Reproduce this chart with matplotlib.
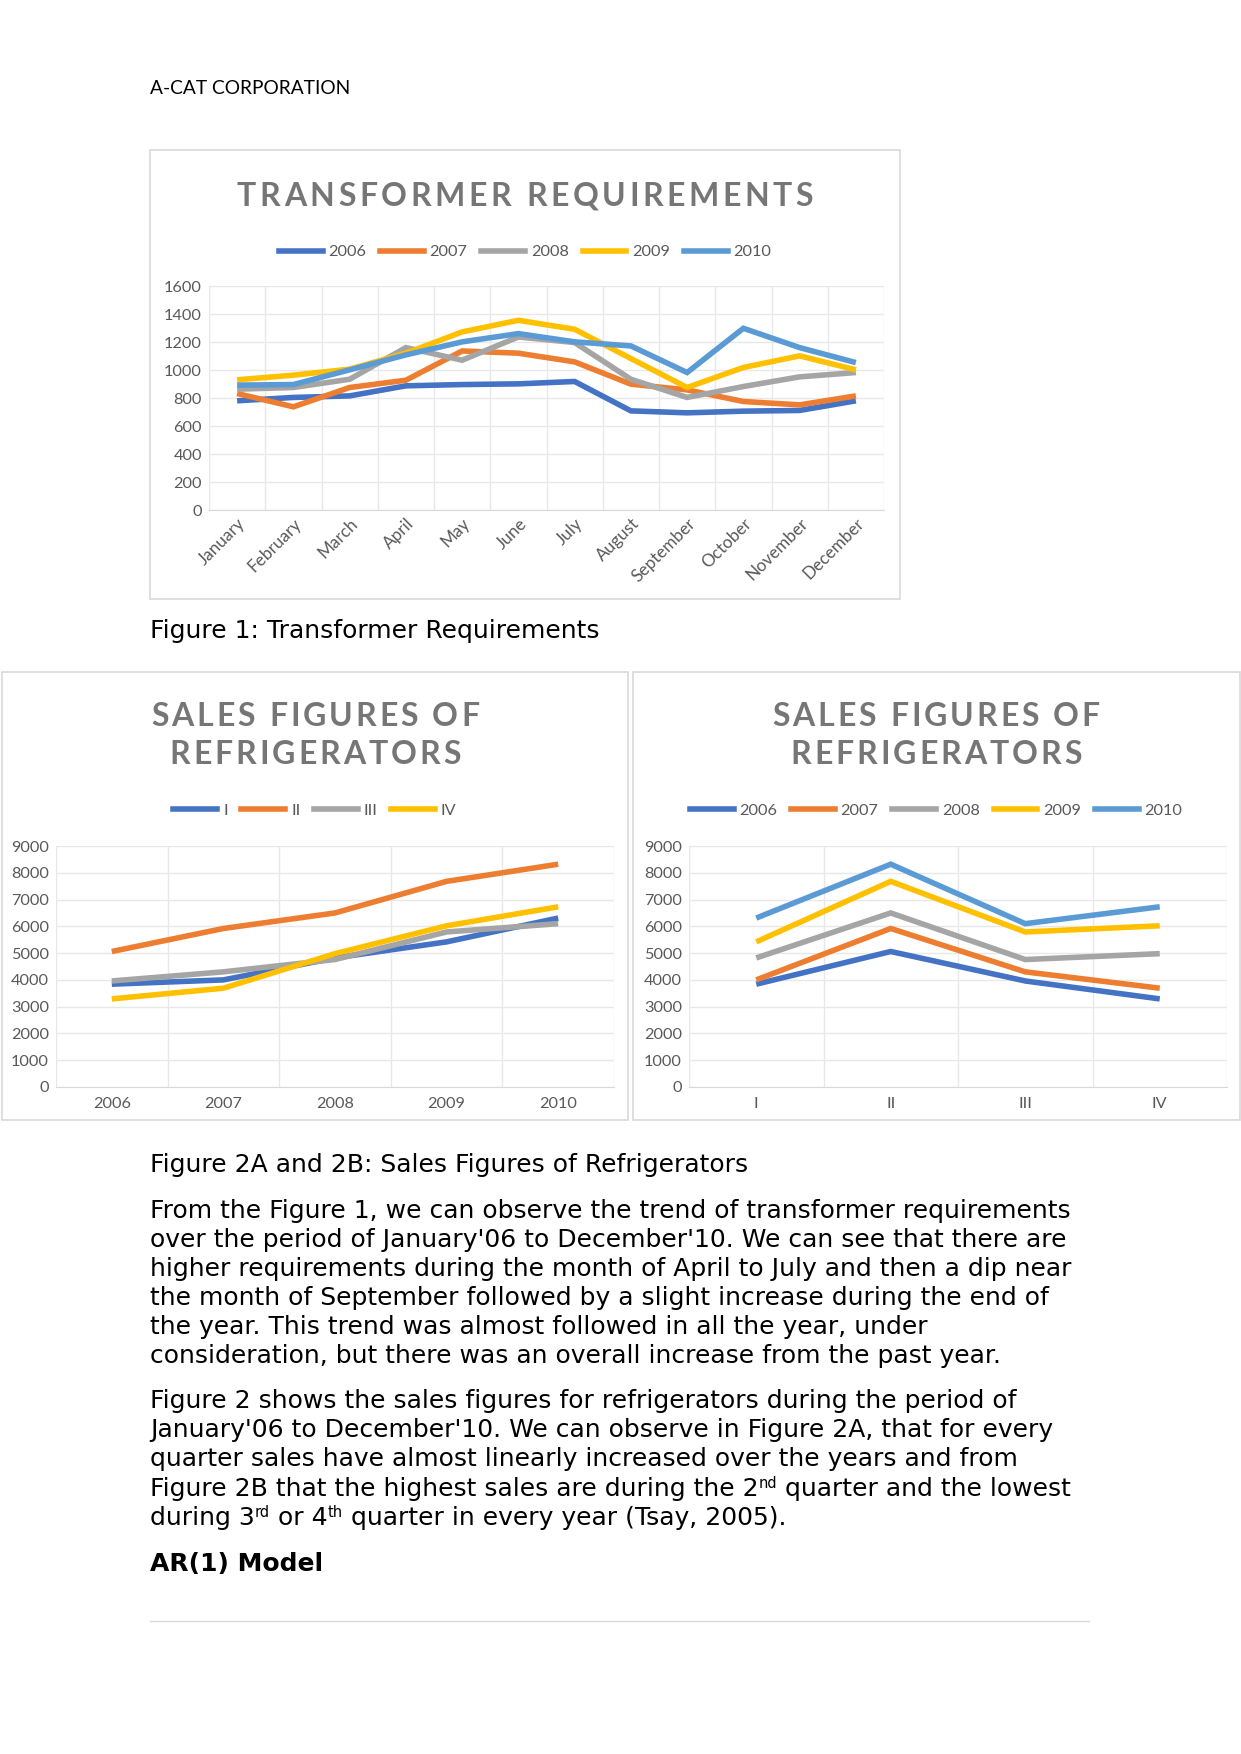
import matplotlib
matplotlib.use("Agg")
import matplotlib.pyplot as plt
from matplotlib.font_manager import FontProperties
from matplotlib.lines import Line2D
import numpy as np

W, H = 1241, 1754

# ---- data -------------------------------------------------------------
months = ["January", "February", "March", "April", "May", "June", "July",
          "August", "September", "October", "November", "December"]
req_2006 = [780, 804, 815, 887, 896, 901, 918, 708, 694, 706, 711, 780]
req_2007 = [832, 737, 875, 927, 1136, 1120, 1058, 899, 858, 775, 751, 815]
req_2008 = [863, 875, 934, 1160, 1070, 1236, 1196, 934, 804, 882, 951, 982]
req_2009 = [930, 963, 1006, 1120, 1272, 1355, 1291, 1082, 875, 1018, 1101, 1001]
req_2010 = [892, 896, 1001, 1108, 1201, 1260, 1201, 1172, 982, 1298, 1160, 1053]

years = ["2006", "2007", "2008", "2009", "2010"]
quarters = ["I", "II", "III", "IV"]
sales_q1 = [3840, 4000, 4820, 5420, 6310]
sales_q2 = [5060, 5920, 6500, 7680, 8320]
sales_q3 = [3960, 4300, 4760, 5790, 6100]
sales_q4 = [3290, 3690, 4980, 6020, 6730]

# Office palette
COLORS = ["#4472C4", "#ED7D31", "#A5A5A5", "#FFC000", "#5B9BD5"]
TITLE_C = "#767676"
TICK_C = "#595959"
GRID_C = "#e8e8e8"
BOX_C = "#d9d9d9"

fig = plt.figure(figsize=(W / 100, H / 100), dpi=100)
fig.patch.set_facecolor("white")
renderer = fig.canvas.get_renderer()


def fx(x):
    return x / W


def fy(y):
    return 1 - y / H


def text_w(s, prop):
    # pad with bars so leading/trailing spaces are counted
    full = renderer.get_text_width_height_descent("|" + s + "|", prop, ismath=False)[0]
    bars = renderer.get_text_width_height_descent("||", prop, ismath=False)[0]
    return full - bars


def box(x0, y0, x1, y1):
    fig.add_artist(plt.Rectangle((fx(x0), fy(y1)), fx(x1 - x0), (y1 - y0) / H,
                                 transform=fig.transFigure, fill=False,
                                 edgecolor=BOX_C, linewidth=1.2))


def tracked_title(cx, cy, s, size=23, track=3.4):
    prop = FontProperties(family="Lato", weight="bold", size=size)
    widths = [text_w(c, prop) for c in s]
    total = sum(widths) + track * (len(s) - 1)
    x = cx - total / 2
    for c, w in zip(s, widths):
        if c != " ":
            fig.text(fx(x), fy(cy), c, fontproperties=prop, color=TITLE_C,
                     ha="left", va="center")
        x += w + track


def line_chart(rect, cats, series, labels, ymax, ystep, legend_y, legend_cx,
               rotate=False):
    x0, y0, x1, y1 = rect
    ax = fig.add_axes([fx(x0), fy(y1), fx(x1 - x0), (y1 - y0) / H])
    xs = np.arange(len(cats))
    for vals, lab, col in zip(series, labels, COLORS):
        ax.plot(xs, vals, color=col, linewidth=4, label=lab,
                solid_joinstyle="miter", solid_capstyle="butt")
    ax.set_xlim(-0.5, len(cats) - 0.5)
    ax.set_ylim(0, ymax)
    ax.set_yticks(np.arange(0, ymax + 1, ystep))
    ax.set_xticks(xs)
    ax.set_xticks(np.arange(-0.5, len(cats), 1.0), minor=True)
    ax.grid(True, axis="y", color=GRID_C, linewidth=1)
    ax.grid(True, axis="x", which="minor", color=GRID_C, linewidth=1)
    ax.set_axisbelow(True)
    for side in ("left", "right", "top"):
        ax.spines[side].set_visible(False)
    ax.spines["bottom"].set_color(BOX_C)
    ax.tick_params(which="both", length=0, colors=TICK_C, labelsize=11.7, pad=5)
    ax.tick_params(axis="x", pad=7)
    for t in ax.get_yticklabels():
        t.set_family("Lato")
    if rotate:
        ax.set_xticklabels(cats, rotation=45, ha="right", rotation_mode="anchor",
                           family="Lato", size=12.3)
        ax.tick_params(axis="x", pad=4)
    else:
        ax.set_xticklabels(cats, family="Lato")
    handles = [Line2D([], [], color=c, linewidth=4) for c in COLORS[:len(series)]]
    fig.legend(handles, labels, loc="center", ncol=len(labels), frameon=False,
               bbox_to_anchor=(fx(legend_cx), fy(legend_y)),
               prop=FontProperties(family="Lato", size=11.7),
               labelcolor=TICK_C, handlelength=2.7, handletextpad=0.35,
               columnspacing=0.85)
    return ax


# ---- page header ------------------------------------------------------
fig.text(fx(150), fy(88), "A-CAT CORPORATION", family="Lato", size=13.8,
         color="black", ha="left", va="center")

# ---- Figure 1 ---------------------------------------------------------
box(150, 150, 900, 599)
tracked_title(525, 196, "TRANSFORMER REQUIREMENTS", track=3.6)
line_chart((209, 286, 884, 510), months,
           [req_2006, req_2007, req_2008, req_2009, req_2010], years,
           1600, 200, 252, 525, rotate=True)

# ---- Figure 2A --------------------------------------------------------
box(2, 672, 628, 1120)
tracked_title(315, 716, "SALES FIGURES OF", track=3.0)
tracked_title(315, 754, "REFRIGERATORS", track=3.0)
line_chart((56, 846, 614, 1087), years,
           [sales_q1, sales_q2, sales_q3, sales_q4], quarters,
           9000, 1000, 811, 315)

# ---- Figure 2B --------------------------------------------------------
by_year = np.array([sales_q1, sales_q2, sales_q3, sales_q4]).T
box(633, 672, 1240, 1120)
tracked_title(936, 716, "SALES FIGURES OF", track=3.0)
tracked_title(936, 754, "REFRIGERATORS", track=3.0)
line_chart((689, 846, 1227, 1087), quarters, list(by_year), years,
           9000, 1000, 811, 936)

# ---- body text --------------------------------------------------------
BODY_PROP = FontProperties(family="DejaVu Sans", size=18)
SUP_PROP = FontProperties(family="DejaVu Sans", size=10.5)


def body_line(y, segments, x=150):
    """segments: list of (text, is_superscript)."""
    for s, sup in segments:
        if sup:
            fig.text(fx(x), fy(y - 0.5), s, fontproperties=SUP_PROP,
                     color="black", ha="left", va="baseline")
            x += text_w(s, SUP_PROP)
        else:
            fig.text(fx(x), fy(y), s, fontproperties=BODY_PROP,
                     color="black", ha="left", va="center")
            x += text_w(s, BODY_PROP)


body_line(631, [("Figure 1: Transformer Requirements", False)])
body_line(1165, [("Figure 2A and 2B: Sales Figures of Refrigerators", False)])

para1 = [
    "From the Figure 1, we can observe the trend of transformer requirements",
    "over the period of January'06 to December'10. We can see that there are",
    "higher requirements during the month of April to July and then a dip near",
    "the month of September followed by a slight increase during the end of",
    "the year. This trend was almost followed in all the year, under",
    "consideration, but there was an overall increase from the past year.",
]
para2 = [
    [("Figure 2 shows the sales figures for refrigerators during the period of", False)],
    [("January'06 to December'10. We can observe in Figure 2A, that for every", False)],
    [("quarter sales have almost linearly increased over the years and from", False)],
    [("Figure 2B that the highest sales are during the 2", False), ("nd", True),
     (" quarter and the lowest", False)],
    [("during 3", False), ("rd", True), (" or 4", False), ("th", True),
     (" quarter in every year (Tsay, 2005).", False)],
]
for i, s in enumerate(para1):
    body_line(1211 + i * 29, [(s, False)])
for i, segs in enumerate(para2):
    body_line(1401 + i * 29.2, segs)
fig.text(fx(150), fy(1564), "AR(1) Model", family="DejaVu Sans", size=18,
         weight="bold", color="black", ha="left", va="center")

fig.add_artist(Line2D([fx(150), fx(1089)], [fy(1621), fy(1621)],
                      transform=fig.transFigure, color=BOX_C, linewidth=1))

fig.savefig("out.png", dpi=100, facecolor="white")
